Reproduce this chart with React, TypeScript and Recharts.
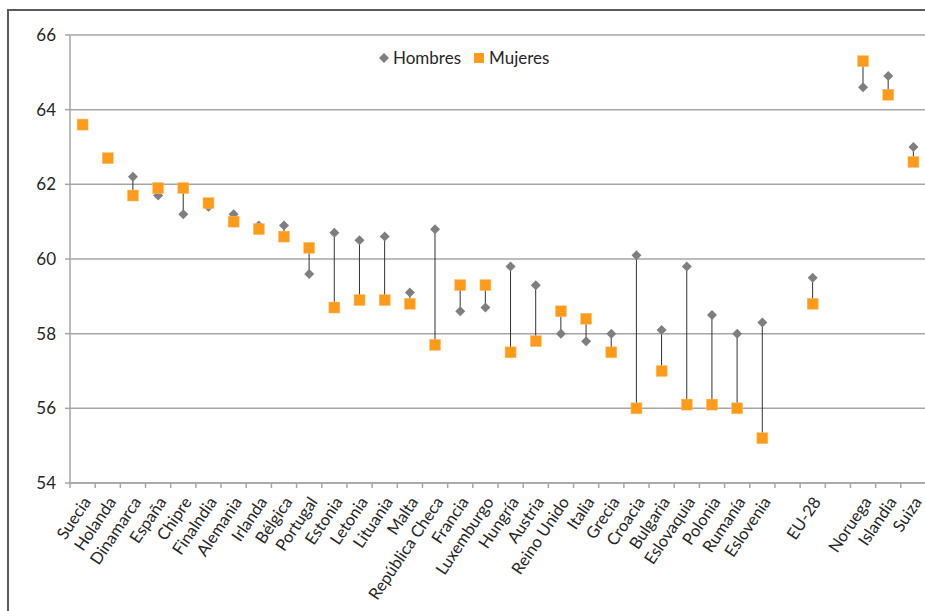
import React from 'react';
import {
  ComposedChart,
  Bar,
  Scatter,
  XAxis,
  YAxis,
  CartesianGrid,
} from 'recharts';

// empty strings leave the gaps before and after EU-28
const paises = [
  'Suecia', 'Holanda', 'Dinamarca', 'España', 'Chipre', 'Finalndia', 'Alemania',
  'Irlanda', 'Bélgica', 'Portugal', 'Estonia', 'Letonia', 'Lituania', 'Malta',
  'República Checa', 'Francia', 'Luxemburgo', 'Hungría', 'Austria', 'Reino Unido',
  'Italia', 'Grecia', 'Croacia', 'Bulgaria', 'Eslovaquia', 'Polonia', 'Rumanía',
  'Eslovenia', '', 'EU-28', '', 'Noruega', 'Islandia', 'Suiza',
];

const hombres = [
  63.6, 62.7, 62.2, 61.7, 61.2, 61.4, 61.2,
  60.9, 60.9, 59.6, 60.7, 60.5, 60.6, 59.1,
  60.8, 58.6, 58.7, 59.8, 59.3, 58.0,
  57.8, 58.0, 60.1, 58.1, 59.8, 58.5, 58.0,
  58.3, null, 59.5, null, 64.6, 64.9, 63.0,
];

const mujeres = [
  63.6, 62.7, 61.7, 61.9, 61.9, 61.5, 61.0,
  60.8, 60.6, 60.3, 58.7, 58.9, 58.9, 58.8,
  57.7, 59.3, 59.3, 57.5, 57.8, 58.6,
  58.4, 57.5, 56.0, 57.0, 56.1, 56.1, 56.0,
  55.2, null, 58.8, null, 65.3, 64.4, 62.6,
];

const yTicks = [54, 56, 58, 60, 62, 64, 66];

const data = paises.map((pais, i) => {
  const h = hombres[i];
  const m = mujeres[i];
  return {
    pais,
    hombres: h,
    mujeres: m,
    rango: h == null || m == null ? null : [Math.min(h, m), Math.max(h, m)],
  };
});

const FONT = 'Lato, "Open Sans", sans-serif';
const GRIS = '#7f7f7f';
const NARANJA = '#ff9b1a';
const EJE = '#a6a6a6';

// vertical line joining the two values of each country
const Conector = (props: any) => {
  const { x, y, width, height } = props;
  if (x == null || y == null || !isFinite(y)) return null;
  const cx = x + width / 2;
  return <line x1={cx} x2={cx} y1={y} y2={y + height} stroke="#333" strokeWidth={1} />;
};

const Rombo = (props: any) => {
  const { cx, cy } = props;
  if (cx == null || cy == null || !isFinite(cy)) return null;
  const r = 5;
  return (
    <polygon
      points={`${cx},${cy - r} ${cx + r},${cy} ${cx},${cy + r} ${cx - r},${cy}`}
      fill={GRIS}
    />
  );
};

const Cuadrado = (props: any) => {
  const { cx, cy } = props;
  if (cx == null || cy == null || !isFinite(cy)) return null;
  const s = 11;
  return <rect x={cx - s / 2} y={cy - s / 2} width={s} height={s} fill={NARANJA} stroke="#ffc070" strokeWidth={0.5} />;
};

// rotated country label plus a tick mark on the category boundary
const EtiquetaPais = (props: any) => {
  const { x, y, payload } = props;
  const half = payload.offset || 12.6;
  return (
    <g>
      <line x1={x - half} x2={x - half} y1={y - 8} y2={y - 3} stroke={EJE} strokeWidth={1.5} />
      <g transform={`translate(${x + 9},${y + 11})`}>
        <text
          transform="rotate(-56)"
          textAnchor="end"
          fontFamily={FONT}
          fontSize={16.5}
          fill="#262626"
        >
          {payload.value}
        </text>
      </g>
    </g>
  );
};

const Leyenda = () => (
  <div
    style={{
      position: 'absolute',
      left: 378,
      top: 47,
      display: 'flex',
      alignItems: 'center',
      fontFamily: FONT,
      fontSize: 17,
      color: '#262626',
    }}
  >
    <svg width={12} height={12} style={{ marginRight: 3 }}>
      <polygon points="6,1 11,6 6,11 1,6" fill={GRIS} />
    </svg>
    <span style={{ marginRight: 12 }}>Hombres</span>
    <svg width={12} height={12} style={{ marginRight: 4 }}>
      <rect x={1} y={1} width={10} height={10} fill={NARANJA} />
    </svg>
    <span>Mujeres</span>
  </div>
);

export default function App() {
  return (
    <div style={{ position: 'absolute', left: 0, top: 0, width: 925, height: 611, background: '#fff', overflow: 'hidden' }}>
      <div
        style={{
          position: 'absolute',
          left: 7,
          top: 9,
          width: 960,
          height: 700,
          border: '2px solid #5a5a5a',
        }}
      />
      <ComposedChart
        width={926}
        height={611}
        data={data}
        margin={{ top: 35, right: 0, bottom: 0, left: 0 }}
        style={{ position: 'absolute', left: 0, top: 0 }}
      >
        <CartesianGrid horizontal vertical={false} stroke={EJE} strokeWidth={1.5} />
        <XAxis
          dataKey="pais"
          type="category"
          interval={0}
          height={128}
          axisLine={{ stroke: EJE, strokeWidth: 1.5 }}
          tickLine={false}
          tick={<EtiquetaPais />}
        />
        <YAxis
          domain={[54, 66]}
          ticks={yTicks}
          width={70}
          axisLine={{ stroke: EJE, strokeWidth: 1.5 }}
          tickLine={{ stroke: EJE, strokeWidth: 1.5 }}
          tickSize={5}
          tickMargin={9}
          tick={{ fontFamily: FONT, fontSize: 17, fill: '#262626' }}
        />
        <Bar dataKey="rango" shape={<Conector />} isAnimationActive={false} />
        <Scatter dataKey="hombres" shape={<Rombo />} isAnimationActive={false} />
        <Scatter dataKey="mujeres" shape={<Cuadrado />} isAnimationActive={false} />
      </ComposedChart>
      <Leyenda />
    </div>
  );
}
